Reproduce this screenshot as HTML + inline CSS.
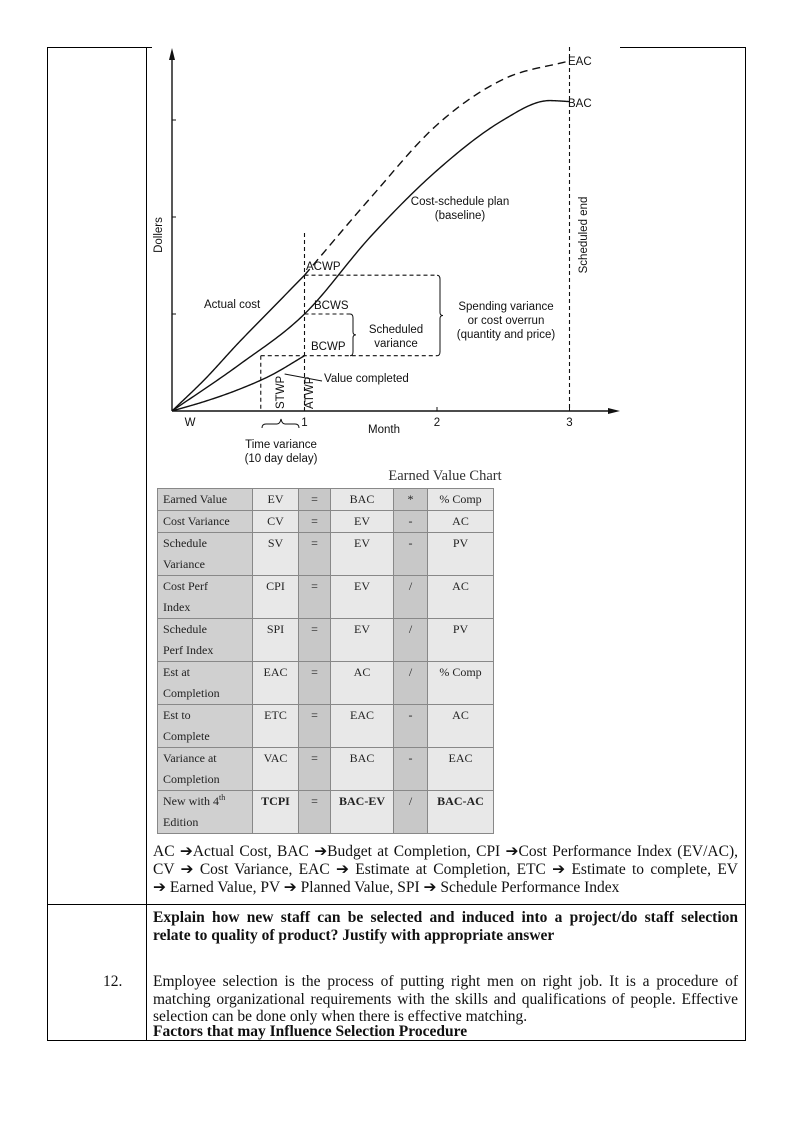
<!DOCTYPE html>
<html><head><meta charset="utf-8"><style>
body{margin:0;background:#fff;width:794px;height:1123px;position:relative;overflow:hidden;font-family:"Liberation Serif",serif;}
.abs{position:absolute;}
.ln{position:absolute;background:#000;}
.t{position:absolute;font-size:15.5px;line-height:18px;color:#111;white-space:nowrap;}
.j{width:585px;white-space:normal;text-align:justify;text-align-last:justify;}
table.ev{position:absolute;left:157px;top:488px;width:336px;table-layout:fixed;border-collapse:collapse;font-family:"Liberation Serif",serif;font-size:12px;color:#222;}
table.ev td{border:1px solid #888;vertical-align:top;padding:0 5px;line-height:21px;overflow:hidden;white-space:nowrap;}
</style></head><body>
<div class="ln" style="left:47px;top:47px;width:1px;height:994px"></div>
<div class="ln" style="left:146px;top:47px;width:1px;height:994px"></div>
<div class="ln" style="left:745px;top:47px;width:1px;height:994px"></div>
<div class="ln" style="left:47px;top:47px;width:105px;height:1px"></div>
<div class="ln" style="left:620px;top:47px;width:126px;height:1px"></div>
<div class="ln" style="left:47px;top:904px;width:699px;height:1px"></div>
<div class="ln" style="left:47px;top:1040px;width:699px;height:1px"></div>

<svg class="abs" style="left:0;top:0" width="794" height="486" id="chart" font-family="Liberation Sans, sans-serif" font-size="11.5" fill="#111">
<g id="marks"></g>
<text x="162" y="235" transform="rotate(-90 162 235)" text-anchor="middle">Dollers</text>
<text x="384" y="433" text-anchor="middle">Month</text>
<text x="190" y="426" text-anchor="middle">W</text>
<text x="568" y="65">EAC</text>
<text x="568" y="107">BAC</text>
<text x="587" y="235" transform="rotate(-90 587 235)" text-anchor="middle">Scheduled end</text>
<text x="460" y="205" text-anchor="middle">Cost-schedule plan</text>
<text x="460" y="219" text-anchor="middle">(baseline)</text>
<text x="306" y="270">ACWP</text>
<text x="204" y="308">Actual cost</text>
<text x="314" y="309">BCWS</text>
<text x="311" y="350">BCWP</text>
<text x="396" y="333" text-anchor="middle">Scheduled</text>
<text x="396" y="347" text-anchor="middle">variance</text>
<text x="506" y="310" text-anchor="middle">Spending variance</text>
<text x="506" y="324" text-anchor="middle">or cost overrun</text>
<text x="506" y="338" text-anchor="middle">(quantity and price)</text>
<text x="324" y="382">Value completed</text>
<text x="284" y="409" transform="rotate(-90 284 409)">STWP</text>
<text x="313" y="409" transform="rotate(-90 313 409)">ATWP</text>
<text x="281" y="448" text-anchor="middle">Time variance</text>
<text x="281" y="462" text-anchor="middle">(10 day delay)</text>
<text x="445" y="480" text-anchor="middle" font-family="Liberation Serif, serif" font-size="14.5" fill="#333">Earned Value Chart</text>
</svg>

<table class="ev">
<colgroup><col style="width:95px"><col style="width:46px"><col style="width:32px"><col style="width:63px"><col style="width:34px"><col style="width:66px"></colgroup>
<tbody id="tb"></tbody></table>

<div class="t j" style="left:153px;top:843px">AC ➔Actual Cost, BAC ➔Budget at Completion, CPI ➔Cost Performance Index (EV/AC),</div>
<div class="t j" style="left:153px;top:861px">CV ➔ Cost Variance, EAC ➔ Estimate at Completion, ETC ➔ Estimate to complete, EV</div>
<div class="t" style="left:153px;top:879px">➔ Earned Value, PV ➔ Planned Value, SPI ➔ Schedule Performance Index</div>

<div class="t" style="left:103px;top:973px">12.</div>
<div class="t j" style="left:153px;top:909px;font-weight:bold">Explain how new staff can be selected and induced into a project/do staff selection</div>
<div class="t" style="left:153px;top:927px;font-weight:bold">relate to quality of product? Justify with appropriate answer</div>
<div class="t j" style="left:153px;top:973px">Employee selection is the process of putting right men on right job. It is a procedure of</div>
<div class="t j" style="left:153px;top:991px">matching organizational requirements with the skills and qualifications of people. Effective</div>
<div class="t" style="left:153px;top:1008px">selection can be done only when there is effective matching.</div>
<div class="t" style="left:153px;top:1023px;font-weight:bold">Factors that may Influence Selection Procedure</div>

<script>
// chart data (month, dollar units)
const baselineMonths=[0,0.5,1,1.5,2,2.5,2.85,3];
const baselineValues=[0,0.47,1.0,1.8,2.48,3.0,3.2,3.19];
const actualMonths=[0,0.25,0.5,0.75,1];
const actualValues=[0,0.33,0.7,1.05,1.40];
const eacMonths=[1,1.5,2,2.5,3];
const eacValues=[1.40,2.2,2.95,3.42,3.61];
const earnedMonths=[0,0.25,0.5,0.75,1];
const earnedValues=[0,0.1,0.22,0.37,0.57];
const xTicks=["1","2","3"];
const yTicks=[1,2,3];
const X0=172,Y0=411,PXM=132.5,PXD=97;
const sx=m=>X0+m*PXM, sy=v=>Y0-v*PXD;
const NS="http://www.w3.org/2000/svg";
const g=document.getElementById('marks');
function el(tag,attrs){const e=document.createElementNS(NS,tag);for(const k in attrs)e.setAttribute(k,attrs[k]);g.appendChild(e);return e;}
function smooth(xs,ys){
  const n=xs.length,d=[],m=[];
  for(let i=0;i<n-1;i++)d.push((ys[i+1]-ys[i])/(xs[i+1]-xs[i]));
  m[0]=d[0];m[n-1]=d[n-2];
  for(let i=1;i<n-1;i++)m[i]=(d[i-1]*d[i]<=0)?0:(d[i-1]+d[i])/2;
  let s=`M${sx(xs[0])},${sy(ys[0])}`;
  for(let i=0;i<n-1;i++){const h=xs[i+1]-xs[i];
    for(let k=1;k<=30;k++){const t=k/30,t2=t*t,t3=t2*t;
      const y=(2*t3-3*t2+1)*ys[i]+(t3-2*t2+t)*h*m[i]+(-2*t3+3*t2)*ys[i+1]+(t3-t2)*h*m[i+1];
      s+=` L${sx(xs[i]+t*h).toFixed(2)},${sy(y).toFixed(2)}`;}}
  return s;}
const S={stroke:'#111',fill:'none','stroke-width':1.4};
const D={stroke:'#111',fill:'none','stroke-width':1.1,'stroke-dasharray':'4,3'};
let a=el('line',{x1:X0,y1:Y0,x2:X0,y2:52,...S});
el('path',{d:`M${X0-3},60 L${X0},48 L${X0+3},60 Z`,fill:'#111'});
a=el('line',{x1:X0,y1:Y0,x2:612,y2:Y0,...S});
el('path',{d:`M608,${Y0-3} L620,${Y0} L608,${Y0+3} Z`,fill:'#111'});
yTicks.forEach(v=>{const t=el('line',{x1:X0,y1:sy(v),x2:X0+4,y2:sy(v),stroke:'#111'});});
xTicks.forEach((l,i)=>{const m=+l;el('line',{x1:sx(m),y1:Y0,x2:sx(m),y2:Y0-4,stroke:'#111'});
const t=el('text',{x:sx(m),y:426,'text-anchor':'middle'});t.textContent=l;
});
let p=el('path',{d:smooth(baselineMonths,baselineValues),...S});
p=el('path',{d:smooth(actualMonths,actualValues),...S});
p=el('path',{d:smooth(eacMonths,eacValues),...S,'stroke-dasharray':'8,5'});
p=el('path',{d:smooth(earnedMonths,earnedValues),...S});
const acwp=actualValues[actualValues.length-1], bcwp=earnedValues[earnedValues.length-1];
const bcws=baselineValues[baselineMonths.indexOf(1)];
el('line',{x1:sx(1),y1:233,x2:sx(1),y2:Y0,...D});
el('line',{x1:sx(3),y1:47,x2:sx(3),y2:Y0,...D});
el('line',{x1:sx(1),y1:sy(acwp),x2:437,y2:sy(acwp),...D});
el('line',{x1:sx(1),y1:sy(bcws),x2:350,y2:sy(bcws),...D});
el('line',{x1:sx(0.67),y1:sy(bcwp),x2:437,y2:sy(bcwp),...D});
el('line',{x1:sx(0.67),y1:sy(bcwp),x2:sx(0.67),y2:Y0,...D});
const br=(x,y1,y2,dir)=>el('path',{d:`M${x},${y1} q${3*dir},0 ${3*dir},4 L${3*dir+x},${(y1+y2)/2-3} q0,3 ${3*dir},3 q${-3*dir},0 ${-3*dir},3 L${3*dir+x},${y2-4} q0,4 ${-3*dir},4`,stroke:'#111',fill:'none'});
br(437,sy(acwp),sy(bcwp),1);
br(350,sy(bcws),sy(bcwp),1);
el('path',{d:`M262,428 q0,-4 4,-4 L277,424 q3,0 4,-5 q1,5 4,5 L295,424 q4,0 4,4`,stroke:'#111',fill:'none'});
el('line',{x1:sx(0.85),y1:374,x2:322,y2:381,stroke:'#111'});

const rows=[["Earned Value","EV","=","BAC","*","% Comp"],["Cost Variance","CV","=","EV","-","AC"],["Schedule<br>Variance","SV","=","EV","-","PV"],["Cost Perf<br>Index","CPI","=","EV","/","AC"],["Schedule<br>Perf Index","SPI","=","EV","/","PV"],["Est at<br>Completion","EAC","=","AC","/","% Comp"],["Est to<br>Complete","ETC","=","EAC","-","AC"],["Variance at<br>Completion","VAC","=","BAC","-","EAC"],["New with 4<sup style='font-size:8px;line-height:0'>th</sup><br>Edition","TCPI","=","BAC-EV","/","BAC-AC"]];
const hts=[22,22,42,43,42,42,43,42,43];
const bgs=["#d0d0d0","#e8e8e8","#c8c8c8","#e8e8e8","#c8c8c8","#e8e8e8"];
const tb=document.getElementById('tb');
rows.forEach((r,i)=>{const tr=document.createElement('tr');tr.style.height=hts[i]+'px';


r.forEach((c,j)=>{const td=document.createElement('td');td.innerHTML=c;td.style.background=bgs[j];td.style.height=(hts[i]-1)+'px';
if(j>0)td.style.textAlign='center';if(i==8&&j>0&&j!=2&&j!=4)td.style.fontWeight='bold';


tr.appendChild(td);});tb.appendChild(tr);});
</script>
</body></html>
